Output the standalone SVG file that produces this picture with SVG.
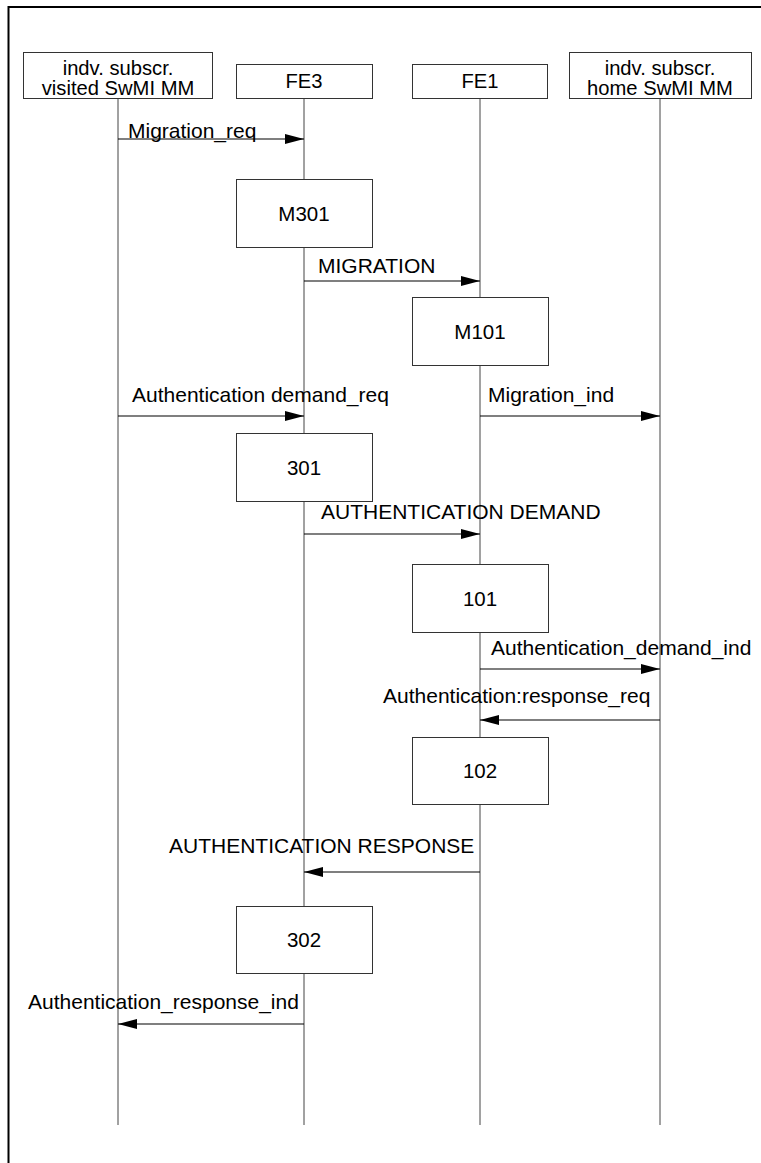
<svg xmlns="http://www.w3.org/2000/svg" width="761" height="1163" viewBox="0 0 761 1163">
<style>
text{font-family:"Liberation Sans",Arial,sans-serif;font-size:21px;fill:#000}
.h{font-size:20.2px}
.b{font-size:20.5px}
.box{fill:#fff;stroke:#333;stroke-width:1}
.life{stroke:#444;stroke-width:1;fill:none}
.msg{stroke:#000;stroke-width:1.2;fill:none;marker-end:url(#ah)}
.c{text-anchor:middle}
</style>
<defs>
<marker id="ah" markerUnits="userSpaceOnUse" markerWidth="20" markerHeight="10" refX="19" refY="5" orient="auto">
<path d="M0,0 L19,5 L0,10 z" fill="#000"/>
</marker>
</defs>
<g id="frame">
<line x1="8" y1="7" x2="761" y2="7" stroke="#000" stroke-width="2"/>
<line x1="8.5" y1="6" x2="8.5" y2="1163" stroke="#000" stroke-width="2"/>
</g>
<g id="lifelines">
<line class="life" x1="118" y1="98" x2="118" y2="1125"/>
<line class="life" x1="304" y1="98" x2="304" y2="1125"/>
<line class="life" x1="480" y1="98" x2="480" y2="1125"/>
<line class="life" x1="660" y1="98" x2="660" y2="1125"/>
</g>
<g id="hdr-visited"><rect class="box" x="23.5" y="52.5" width="189" height="46"/><text class="c h" x="118" y="75">indv. subscr.</text><text class="c h" x="118" y="95">visited SwMI MM</text></g>
<g id="hdr-fe3"><rect class="box" x="236.5" y="64.5" width="136" height="34"/><text class="c h" x="304" y="88">FE3</text></g>
<g id="hdr-fe1"><rect class="box" x="412.5" y="64.5" width="135" height="34"/><text class="c h" x="480" y="88">FE1</text></g>
<g id="hdr-home"><rect class="box" x="569.5" y="52.5" width="182" height="46"/><text class="c h" x="660" y="75">indv. subscr.</text><text class="c h" x="660" y="95">home SwMI MM</text></g>
<g id="M301"><rect class="box" x="236.5" y="179.5" width="136" height="68"/><text class="c b" x="304" y="221">M301</text></g>
<g id="M101"><rect class="box" x="412.5" y="297.5" width="136" height="68"/><text class="c b" x="480" y="339">M101</text></g>
<g id="n301"><rect class="box" x="236.5" y="433.5" width="136" height="68"/><text class="c b" x="304" y="475">301</text></g>
<g id="n101"><rect class="box" x="412.5" y="564.5" width="136" height="68"/><text class="c b" x="480" y="606">101</text></g>
<g id="n102"><rect class="box" x="412.5" y="737.5" width="136" height="67"/><text class="c b" x="480" y="778">102</text></g>
<g id="n302"><rect class="box" x="236.5" y="906.5" width="136" height="67"/><text class="c b" x="304" y="947">302</text></g>
<g id="connectors">
<line class="msg" x1="118" y1="139" x2="304" y2="139"/>
<line class="msg" x1="304" y1="281" x2="480" y2="281"/>
<line class="msg" x1="118" y1="416" x2="304" y2="416"/>
<line class="msg" x1="480" y1="416" x2="660" y2="416"/>
<line class="msg" x1="304" y1="534" x2="480" y2="534"/>
<line class="msg" x1="480" y1="669" x2="660" y2="669"/>
<line class="msg" x1="660" y1="720" x2="480" y2="720"/>
<line class="msg" x1="480" y1="872" x2="304" y2="872"/>
<line class="msg" x1="304" y1="1024" x2="118" y2="1024"/>
</g>
<g id="labels">
<text x="128" y="138">Migration_req</text>
<text x="318" y="273">MIGRATION</text>
<text x="132" y="402">Authentication demand_req</text>
<text x="488" y="402">Migration_ind</text>
<text x="321" y="519">AUTHENTICATION DEMAND</text>
<text x="491" y="655">Authentication_demand_ind</text>
<text x="383" y="703">Authentication:response_req</text>
<text x="169" y="853">AUTHENTICATION RESPONSE</text>
<text x="28" y="1009">Authentication_response_ind</text>
</g>
</svg>
